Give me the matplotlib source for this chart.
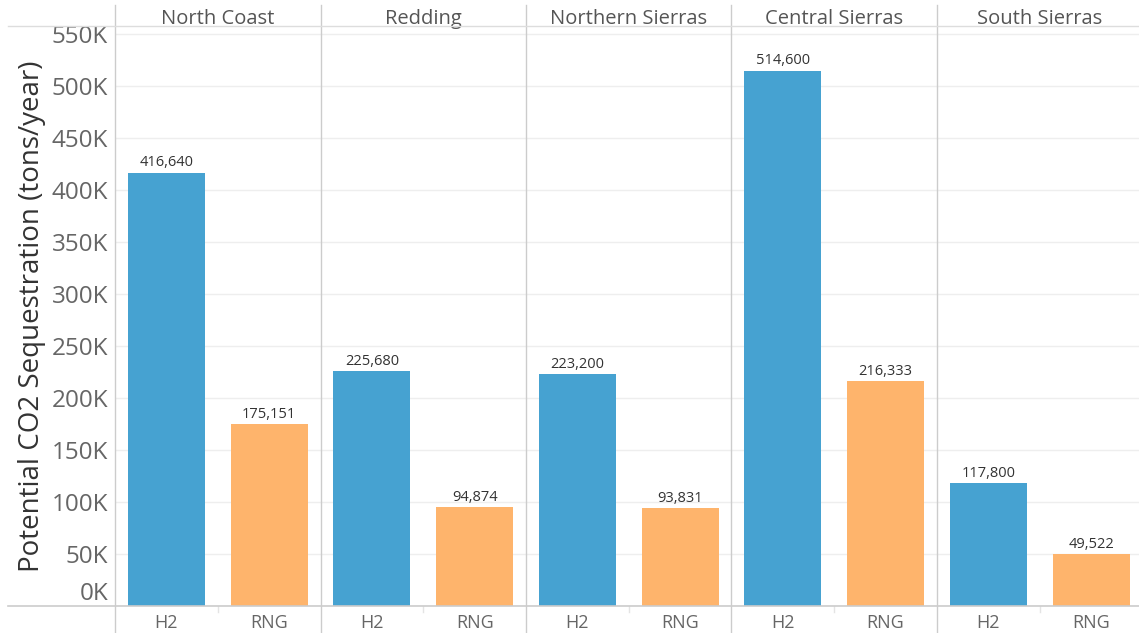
import matplotlib
matplotlib.use('Agg')
import matplotlib.pyplot as plt
from matplotlib.lines import Line2D
from matplotlib.ticker import FuncFormatter
import numpy as np

plt.rcParams['font.family'] = ['Open Sans', 'DejaVu Sans']

regions = ['North Coast', 'Redding', 'Northern Sierras', 'Central Sierras', 'South Sierras']
fuels = ['H2', 'RNG']
h2 = [416640, 225680, 223200, 514600, 117800]
rng = [175151, 94874, 93831, 216333, 49522]
colors = {'H2': '#46a2d1', 'RNG': '#feb46c'}

W, H = 1139, 633
fig = plt.figure(figsize=(W / 100, H / 100), dpi=100)

left, right = 115 / W, 1142.5 / W
bottom, top = 1 - 606 / H, 1 - 26 / H
ax = fig.add_axes([left, bottom, right - left, top - bottom])

ymax = 580 / 52 * 50000
ax.set_xlim(0, 10)
ax.set_ylim(0, ymax)

for i, reg in enumerate(regions):
    for j, (fuel, vals) in enumerate(zip(fuels, [h2, rng])):
        xc = 2 * i + j + 0.5
        ax.bar(xc, vals[i], width=0.75, color=colors[fuel], zorder=3)
        ax.text(xc, vals[i] + ymax * 0.004, f'{vals[i]:,}', ha='center', va='bottom',
                fontsize=10.5, color='#333333', zorder=4)
    ax.text(2 * i + 1, 1 + 7 / (606 - 26), reg, transform=ax.get_xaxis_transform(),
            ha='center', va='center', fontsize=14.5, color='#555555', clip_on=False)

# y axis
ax.set_yticks(np.arange(0, 550001, 50000))
ax.yaxis.set_major_formatter(FuncFormatter(lambda v, p: f'{int(v / 1000)}K'))
ax.tick_params(axis='y', length=0, labelsize=17.5, labelcolor='#666666', pad=5)
ax.yaxis.grid(True, color='#eeeeee', linewidth=1, zorder=0)
ax.get_yticklabels()[0].set_verticalalignment('bottom')
ax.set_ylabel('Potential CO2 Sequestration (tons/year)', fontsize=20, color='#333333', labelpad=4)

# x axis
ax.set_xticks([2 * i + j + 0.5 for i in range(5) for j in range(2)])
ax.set_xticklabels(fuels * 5)
ax.tick_params(axis='x', length=0, labelsize=13, labelcolor='#666666', pad=6)

for s in ax.spines.values():
    s.set_visible(False)

# frame lines in figure coordinates
line_col = '#cccccc'
for i in range(5):
    xf = left + (right - left) * (2 * i) / 10
    fig.add_artist(Line2D([xf, xf], [0, 1 - 5 / H], color=line_col, lw=1))
    xm = left + (right - left) * (2 * i + 1) / 10
    fig.add_artist(Line2D([xm, xm], [bottom - 6 / H, bottom], color='#e4e4e4', lw=1))
fig.add_artist(Line2D([8 / W, 1], [top, top], color='#dddddd', lw=1))
fig.add_artist(Line2D([8 / W, 1], [bottom, bottom], color=line_col, lw=1.2))

fig.savefig('out.png', dpi=100, facecolor='white')
